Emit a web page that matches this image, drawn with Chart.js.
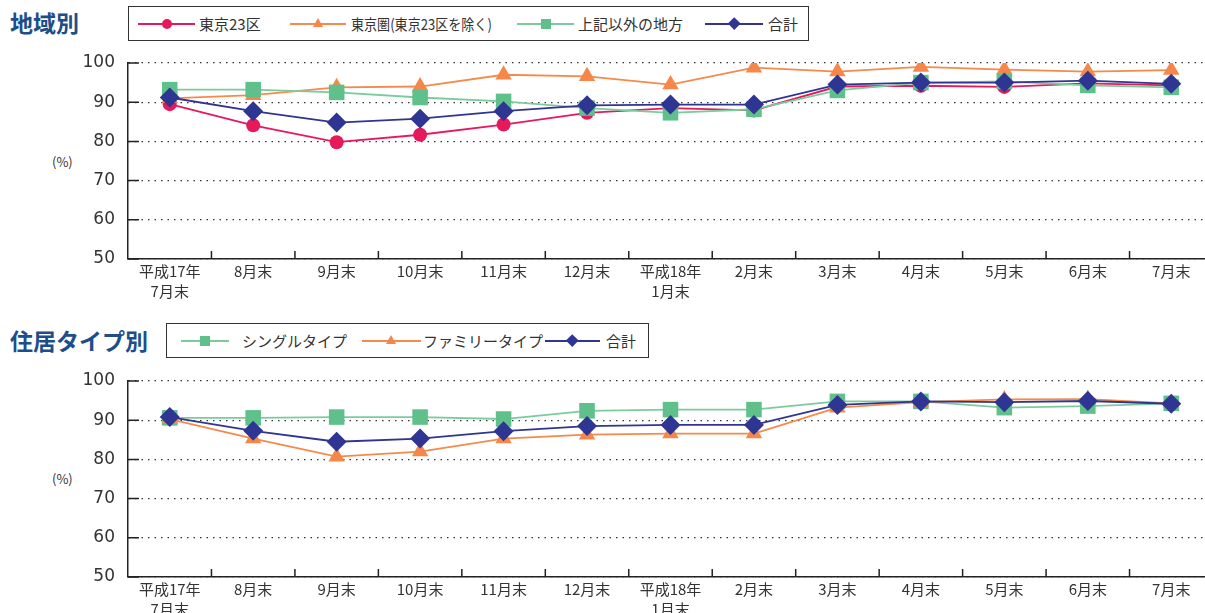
<!DOCTYPE html>
<html lang="ja">
<head>
<meta charset="utf-8">
<script src="https://cdn.jsdelivr.net/npm/chart.js@4.4.1/dist/chart.umd.min.js"></script>
<style>
  html, body { margin:0; padding:0; background:#fff; }
  body { width:1205px; height:613px; position:relative; overflow:hidden;
         font-family:'Noto Sans CJK JP','Noto Sans',sans-serif; color:#333; }
  .title { position:absolute; left:10px; font-size:23px; font-weight:bold; color:#1d4e89; line-height:1; }
  .legend { position:absolute; border:1px solid #333; box-sizing:border-box; background:#fff; }
  .item { position:absolute; top:0; height:100%; }
  .ln { position:absolute; top:50%; height:2px; margin-top:-1px; }
  .mk { position:absolute; top:50%; }
  .tx { position:absolute; top:50%; font-size:15px; white-space:nowrap; color:#333; transform-origin:left center; }
  .pct { position:absolute; left:52px; font-size:13px; color:#333; }
  canvas { position:absolute; left:0; }
</style>
</head>
<body>
<div class="title" style="top:11px;">地域別</div>
<div class="legend" id="leg1" style="left:128px; top:6px; width:681px; height:35px;"></div>
<div class="pct" style="top:152px;">(%)</div>
<canvas id="c1" width="1224" height="310" style="top:0px;"></canvas>

<div class="title" style="top:329px;">住居タイプ別</div>
<div class="legend" id="leg2" style="left:166px; top:323px; width:483px; height:35px;"></div>
<div class="pct" style="top:469px;">(%)</div>
<canvas id="c2" width="1224" height="295" style="top:318px;"></canvas>

<script>
// ---- data ----
const categories = [["平成17年","7月末"],"8月末","9月末","10月末","11月末","12月末",["平成18年","1月末"],"2月末","3月末","4月末","5月末","6月末","7月末"];
const yTicks = [50, 60, 70, 80, 90, 100];

// 地域別
const tokyo23      = [89.5, 84.1, 79.8, 81.7, 84.3, 87.3, 88.5, 87.9, 94.0, 94.2, 93.9, 94.8, 94.3];
const tokyoArea    = [91.0, 91.8, 93.8, 94.0, 97.0, 96.6, 94.5, 98.8, 97.8, 99.0, 98.3, 97.8, 98.2];
const otherRegions = [93.2, 93.2, 92.5, 91.2, 90.2, 88.5, 87.3, 88.2, 93.0, 95.0, 95.3, 94.3, 93.8];
const totalRegion  = [91.2, 87.7, 84.8, 85.8, 87.7, 89.2, 89.4, 89.4, 94.5, 95.0, 95.0, 95.5, 94.7];

// 住居タイプ別
const singleType = [90.6, 90.6, 90.8, 90.8, 90.3, 92.4, 92.7, 92.7, 94.8, 94.8, 93.2, 93.6, 94.3];
const familyType = [90.3, 85.3, 80.7, 82.0, 85.3, 86.3, 86.6, 86.6, 93.2, 94.6, 95.3, 95.4, 94.3];
const totalType  = [90.8, 87.3, 84.5, 85.3, 87.2, 88.5, 88.8, 88.8, 93.9, 94.8, 94.6, 94.9, 94.2];

// ---- styles ----
const FONT = "'Noto Sans CJK JP','Noto Sans',sans-serif";
const S = {
  red:    { line:'#e6195b', fill:'#e6195b', style:'circle',   r:7 },
  orange: { line:'#f58a4b', fill:'#f5874a', style:'triangle', r:9.5 },
  green:  { line:'#7ccb9d', fill:'#5fc08b', style:'rect',     r:11 },
  navy:   { line:'#2f3591', fill:'#2f3592', style:'rectRot',  r:10 }
};

function ds(label, data, st, order) {
  return {
    label, data, order,
    borderColor: st.line, backgroundColor: st.fill,
    borderWidth: 1.8,
    pointStyle: st.style, pointRadius: st.r, pointHoverRadius: st.r,
    pointBackgroundColor: st.fill, pointBorderColor: st.fill, pointBorderWidth: 0,
    tension: 0, fill: false
  };
}

const innerTicks = {
  id: 'innerTicks',
  beforeDatasetsDraw(chart) {
    const { ctx, chartArea: a, scales: { x, y } } = chart;
    ctx.save();
    ctx.strokeStyle = '#222';
    ctx.lineWidth = 1.5;
    ctx.beginPath();
    y.ticks.forEach(t => {
      const py = y.getPixelForValue(t.value);
      ctx.moveTo(a.left, py); ctx.lineTo(a.left + 11, py);
    });
    const n = x.ticks.length;
    for (let i = 1; i < n; i++) {
      const px = (x.getPixelForValue(i - 1) + x.getPixelForValue(i)) / 2;
      ctx.moveTo(px, a.bottom); ctx.lineTo(px, a.bottom - 8);
    }
    ctx.stroke();
    ctx.restore();
  }
};

function makeChart(id, datasets, xHeight) {
  return new Chart(document.getElementById(id), {
    type: 'line',
    data: { labels: categories, datasets },
    plugins: [innerTicks],
    options: {
      responsive: false, animation: false, devicePixelRatio: 1,
      layout: { padding: { top: 63, right: 0, left: 0, bottom: 0 } },
      plugins: { legend: { display: false }, tooltip: { enabled: false } },
      scales: {
        x: {
          type: 'category', offset: true,
          grid: { display: false, drawTicks: false },
          border: { display: true, color: '#222', width: 1.5 },
          ticks: { color: '#333', font: { family: FONT, size: 15, lineHeight: 1.3 }, padding: 3, maxRotation: 0, autoSkip: false },
          afterFit(s) { s.height = xHeight; }
        },
        y: {
          min: 50, max: 100,
          afterBuildTicks(s) { s.ticks = yTicks.map(v => ({ value: v })); },
          grid: { color: '#333', lineWidth: 1.2, drawTicks: false },
          border: { display: true, color: '#222', width: 1.5, dash: [1.5, 5] },
          ticks: { color: '#333', font: { family: "'DejaVu Sans', sans-serif", size: 17 }, padding: 13 },
          afterFit(s) { s.width = 128; }
        }
      }
    }
  });
}

makeChart('c1', [
  ds('東京23区', tokyo23, S.red, 3),
  ds('東京圏(東京23区を除く)', tokyoArea, S.orange, 2),
  ds('上記以外の地方', otherRegions, S.green, 1),
  ds('合計', totalRegion, S.navy, 0)
], 51);

makeChart('c2', [
  ds('シングルタイプ', singleType, S.green, 2),
  ds('ファミリータイプ', familyType, S.orange, 1),
  ds('合計', totalType, S.navy, 0)
], 36);

// ---- HTML legends ----
function markerHTML(st) {
  if (st.style === 'circle') return `<div class="mk" style="left:50%;width:10px;height:10px;margin:-5px 0 0 -5px;border-radius:50%;background:${st.fill}"></div>`;
  if (st.style === 'rect') return `<div class="mk" style="left:50%;width:10px;height:10px;margin:-5px 0 0 -5px;background:${st.fill}"></div>`;
  if (st.style === 'triangle') return `<div class="mk" style="left:50%;width:0;height:0;margin:-5.5px 0 0 -5.5px;border-left:5.5px solid transparent;border-right:5.5px solid transparent;border-bottom:9px solid ${st.fill}"></div>`;
  return `<div class="mk" style="left:50%;width:8.5px;height:8.5px;margin:-4.25px 0 0 -4.25px;background:${st.fill};transform:rotate(45deg)"></div>`;
}
function buildLegend(elId, boxLeft, items) {
  const el = document.getElementById(elId);
  items.forEach(it => {
    const d = document.createElement('div');
    d.className = 'item';
    d.style.left = (it.l0 - boxLeft) + 'px';
    d.style.width = (it.l1 - it.l0) + 'px';
    d.innerHTML = `<div class="ln" style="left:0;width:100%;background:${it.st.line}"></div>` + markerHTML(it.st);
    el.appendChild(d);
    const t = document.createElement('div');
    t.className = 'tx';
    t.style.left = (it.t - boxLeft) + 'px';
    t.textContent = it.label;
    el.appendChild(t);
    const k = it.w ? it.w / t.offsetWidth : 1;
    t.style.transform = `translateY(-54%) scaleX(${k})`;
  });
}
buildLegend('leg1', 129, [
  { label:'東京23区', st:S.red, l0:138, l1:195, t:199 },
  { label:'東京圏(東京23区を除く)', st:S.orange, l0:290, l1:346, t:351, w:141 },
  { label:'上記以外の地方', st:S.green, l0:517, l1:574, t:578 },
  { label:'合計', st:S.navy, l0:705, l1:763, t:768 }
]);
buildLegend('leg2', 167, [
  { label:'シングルタイプ', st:S.green, l0:181, l1:229, t:242 },
  { label:'ファミリータイプ', st:S.orange, l0:362, l1:421, t:423 },
  { label:'合計', st:S.navy, l0:545, l1:600, t:606 }
]);
</script>
</body>
</html>
